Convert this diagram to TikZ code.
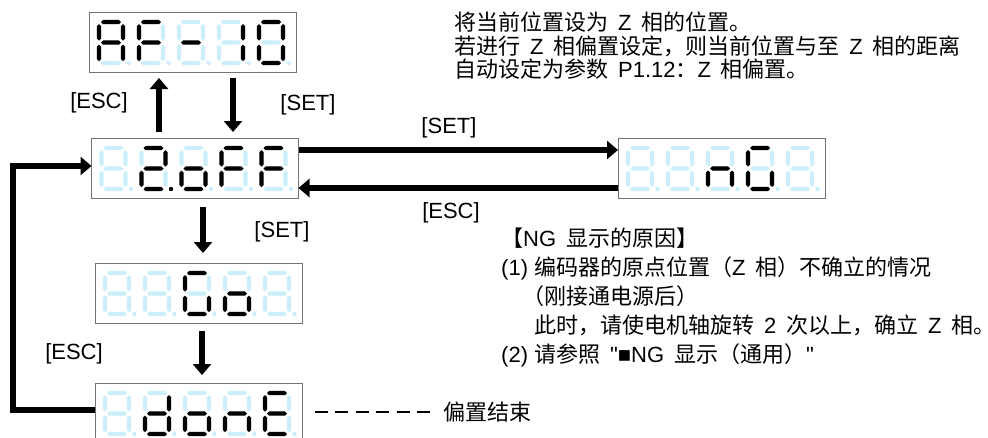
\documentclass[tikz,border=0pt]{standalone}
\usepackage{fontspec}
\setmainfont{Noto Sans CJK SC}
\newfontfamily\latin{Liberation Sans}
\usetikzlibrary{positioning, arrows.meta}
\XeTeXinterchartokenstate=0

% seven-segment geometry, in px of a 28x45 digit cell
\newcommand{\sgw}{2.2}
\newcommand{\segh}[3]{(#1,#3) -- ({#1+\sgw},{#3-\sgw}) -- ({#2-\sgw},{#3-\sgw}) -- (#2,#3) -- ({#2-\sgw},{#3+\sgw}) -- ({#1+\sgw},{#3+\sgw}) -- cycle}
\newcommand{\segv}[3]{(#1,#2) -- ({#1+\sgw},{#2+\sgw}) -- ({#1+\sgw},{#3-\sgw}) -- (#1,#3) -- ({#1-\sgw},{#3-\sgw}) -- ({#1-\sgw},{#2+\sgw}) -- cycle}
\newcommand{\segA}{\segh{4}{24}{2}}
\newcommand{\segG}{\segh{4}{24}{22.5}}
\newcommand{\segD}{\segh{4}{24}{43}}
\newcommand{\segF}{\segv{2}{4}{20.5}}
\newcommand{\segE}{\segv{2}{24.5}{41}}
\newcommand{\segB}{\segv{26}{4}{20.5}}
\newcommand{\segC}{\segv{26}{24.5}{41}}
\newcommand{\segN}{(0,0)}
\newcommand{\zsp}{\hspace{0.45em}}

\newcommand{\segdigit}[3]{%
  \begin{scope}[shift={(#1.north west)}, shift={({8+40*#2},8)}]
    \foreach \s in {A,B,C,D,E,F,G} \fill[segoff] \csname seg\s\endcsname;
    \edef\seglist{#3}%
    \foreach \s in \seglist \fill[segon] \csname seg\s\endcsname;
    \fill[segoff] (31.5,43) circle (2.2);
  \end{scope}}

% #1 node, #2-#6 lit segments of the five digits, #7 digit with lit dot (-1: none)
\newcommand{\segdisplay}[7]{%
  \segdigit{#1}{0}{#2}\segdigit{#1}{1}{#3}\segdigit{#1}{2}{#4}%
  \segdigit{#1}{3}{#5}\segdigit{#1}{4}{#6}%
  \ifnum#7>-1
    \fill[segon] ([shift={({8+40*#7+31.5},51)}]#1.north west) circle (2.2);
  \fi}

\begin{document}
\begin{tikzpicture}[x=1pt, y=-1pt,
    disp/.style={draw=black!55, line width=1pt, fill=white, minimum width=207pt,
                 minimum height=60pt, inner sep=0pt, outer sep=0pt},
    segoff/.style={fill=cyan!20},
    segon/.style={fill=black},
    arr/.style={-{Triangle[length=11pt, width=18pt]}, line width=6pt},
    lbl/.style={font=\latin\fontsize{22}{26}\selectfont, inner sep=0pt},
    note/.style={font=\fontsize{22}{23.5}\selectfont, align=left, inner sep=0pt, anchor=north west}
  ]
  \useasboundingbox (0,0) rectangle (988,437);

  % displays
  \node[disp] (dispAF) at (192.5,42) {};
  \node[disp] (dispOff) at (195,168) {};
  \node[disp] (dispNG) at (721.5,168) {};
  \node[disp] (dispGo) at (198.5,293) {};
  \node[disp] (dispDone) at (198.5,413) {};
  \segdisplay{dispAF}{A,B,C,E,F,G}{A,E,F,G}{G}{B,C}{A,B,C,D,E,F}{-1}
  \segdisplay{dispOff}{N}{A,B,D,E,G}{C,D,E,G}{A,E,F,G}{A,E,F,G}{1}
  \segdisplay{dispNG}{N}{N}{C,E,G}{A,C,D,E,F}{N}{-1}
  \segdisplay{dispGo}{N}{N}{A,C,D,E,F}{C,D,E,G}{N}{-1}
  \segdisplay{dispDone}{N}{B,C,D,E,G}{C,D,E,G}{C,E,G}{A,D,E,F,G}{-1}

  % arrows
  \draw[arr, shorten <=6pt, shorten >=6pt] ([xshift=-36pt]dispOff.north) -- ([xshift=-36pt]dispOff.north |- dispAF.south);
  \draw[arr, shorten <=6pt, shorten >=6pt] ([xshift=40.5pt]dispAF.south) -- ([xshift=40.5pt]dispAF.south |- dispOff.north);
  \draw[arr] ([yshift=18pt]dispOff.east) -- ([yshift=18pt]dispOff.east -| dispNG.west);
  \draw[arr] ([yshift=-20pt]dispNG.west) -- ([yshift=-20pt]dispNG.west -| dispOff.east);
  \draw[arr, shorten <=9pt, shorten >=10pt] ([xshift=8pt]dispOff.south) -- ([xshift=8pt]dispOff.south |- dispGo.north);
  \draw[arr, shorten <=8pt, shorten >=8pt] ([xshift=3.5pt]dispGo.south) -- ([xshift=3.5pt]dispGo.south |- dispDone.north);
  \coordinate (loopL) at (13,300);
  \draw[arr, line width=5.5pt] ([yshift=3pt]dispDone.west) -| (loopL) |- ([yshift=2pt]dispOff.west);

  % key labels
  \node[lbl] (lblEscUp) at (99,103) {[ESC]};
  \node[lbl] (lblSetDown) at (308,105) {[SET]};
  \node[lbl] (lblSetRight) at (449,128) {[SET]};
  \node[lbl] (lblEscLeft) at (451,213) {[ESC]};
  \node[lbl] (lblSetGo) at (282,232) {[SET]};
  \node[lbl] (lblEscDone) at (74,354) {[ESC]};

  % notes
  \node[note] (noteZero) at (454,12) {%
    将当前位置设为\zsp{\latin Z}\zsp 相的位置。\\
    若进行\zsp{\latin Z}\zsp 相偏置设定，则当前位置与至\zsp{\latin Z}\zsp 相的距离\\
    自动设定为参数\zsp{\latin P1.12}：{\latin Z}\zsp 相偏置。};
  \node[note, font=\fontsize{22}{29}\selectfont] (noteNG) at (501,228) {%
    【{\latin NG}\zsp 显示的原因】\\
    {\latin (1) }编码器的原点位置（{\latin Z}\zsp 相）不确立的情况\\
    \hspace*{21pt}（刚接通电源后）\\
    \hspace*{33pt}此时，请使电机轴旋转\zsp{\latin 2}\zsp 次以上，确立\zsp{\latin Z}\zsp 相。\\
    {\latin (2) }请参照\zsp{\latin "■NG}\zsp 显示（通用）{\latin "}};
  \node[lbl, font=\fontsize{22}{26}\selectfont, anchor=west] (noteDone) at (443,412) {偏置结束};
  \draw[line width=1.3pt, dash pattern=on 13pt off 7.4pt, shorten <=13pt, shorten >=13pt]
    ([yshift=1pt]dispDone.east) -- (noteDone.west);
\end{tikzpicture}
\end{document}
